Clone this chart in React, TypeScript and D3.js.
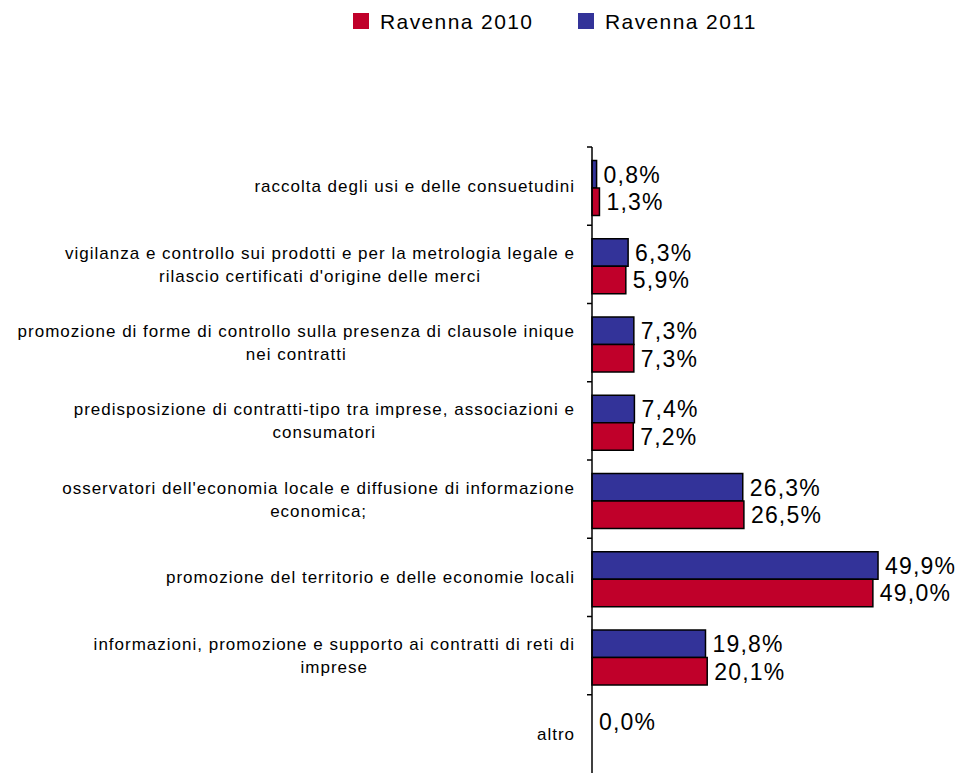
import { useEffect, useRef } from "react"
import * as d3 from "d3"

// categories, top to bottom; each entry is the wrapped lines of the label
const categories = [
  ["raccolta degli usi e delle consuetudini"],
  ["vigilanza e controllo sui prodotti e per la metrologia legale e", "rilascio certificati d'origine delle merci"],
  ["promozione di forme di controllo sulla presenza di clausole inique", "nei contratti"],
  ["predisposizione di contratti-tipo tra imprese, associazioni e", "consumatori"],
  ["osservatori dell'economia locale e diffusione di informazione", "economica;"],
  ["promozione del territorio e delle economie locali"],
  ["informazioni, promozione e supporto ai contratti di reti di", "imprese"],
  ["altro"],
]

const series = ["Ravenna 2011", "Ravenna 2010"]
const legendOrder = ["Ravenna 2010", "Ravenna 2011"]
const values2011 = [0.8, 6.3, 7.3, 7.4, 26.3, 49.9, 19.8, 0.0]
const values2010: (number | null)[] = [1.3, 5.9, 7.3, 7.2, 26.5, 49.0, 20.1, null]

const colors: Record<string, string> = {
  "Ravenna 2010": "#C0002A",
  "Ravenna 2011": "#333399",
}

const fmt = (v: number) => v.toFixed(1).replace(".", ",") + "%"

export default function App() {
  const svgRef = useRef<SVGSVGElement>(null)

  useEffect(() => {
    if (!svgRef.current) return
    const svg = d3.select(svgRef.current)
    svg.selectAll("*").remove()

    const axisX = 592
    const top = 147
    const bottom = 773
    const font = "'Liberation Sans', Arial, sans-serif"

    const keys = categories.map((_, i) => String(i))
    const y = d3.scaleBand().domain(keys).range([top, bottom])
    const yInner = d3.scaleBand().domain(series).range([13.5, 68.5])
    const x = d3.scaleLinear().domain([0, 50]).range([axisX, axisX + 286.6])

    const rows = categories.map((lines, i) => ({
      key: String(i),
      lines,
      vals: [
        { s: "Ravenna 2011", v: values2011[i] },
        { s: "Ravenna 2010", v: values2010[i] },
      ],
    }))

    // bars + value labels
    const g = svg.append("g")
    rows.forEach((r) => {
      const y0 = y(r.key) || 0
      r.vals.forEach((d) => {
        if (d.v === null) return
        const by = y0 + (yInner(d.s) || 0)
        if (d.v > 0) {
          g.append("rect")
            .attr("x", x(0))
            .attr("y", by)
            .attr("width", x(d.v) - x(0))
            .attr("height", yInner.bandwidth())
            .attr("fill", colors[d.s])
            .attr("stroke", "#000")
            .attr("stroke-width", 1.5)
        }
        g.append("text")
          .attr("x", x(d.v) + 7)
          .attr("y", by + yInner.bandwidth() / 2)
          .attr("dy", "0.36em")
          .attr("font-family", font)
          .attr("font-size", 23)
          .attr("letter-spacing", 1.2)
          .attr("fill", "#000")
          .text(fmt(d.v))
      })
    })

    // axis line + ticks
    svg.append("line")
      .attr("x1", axisX).attr("x2", axisX)
      .attr("y1", top).attr("y2", bottom)
      .attr("stroke", "#000").attr("stroke-width", 1.5)
    keys.forEach((k) => {
      svg.append("line")
        .attr("x1", axisX - 5).attr("x2", axisX)
        .attr("y1", y(k) || 0).attr("y2", y(k) || 0)
        .attr("stroke", "#000").attr("stroke-width", 1.5)
    })

    // category labels: block right-aligned near axis, lines centred in block
    const labelRight = 575
    const lineH = 23
    rows.forEach((r) => {
      const cy = (y(r.key) || 0) + y.bandwidth() / 2
      const t = svg.append("g")
      const texts = r.lines.map((ln, j) =>
        t.append("text")
          .attr("y", cy + (j - (r.lines.length - 1) / 2) * lineH)
          .attr("dy", "0.36em")
          .attr("text-anchor", "middle")
          .attr("font-family", font)
          .attr("font-size", 17)
          .attr("letter-spacing", 1.0)
          .attr("fill", "#000")
          .text(ln)
      )
      const widths = texts.map((tx) => (tx.node() as SVGTextElement).getComputedTextLength())
      const blockW = d3.max(widths) || 0
      texts.forEach((tx) => tx.attr("x", labelRight - blockW / 2))
    })

    // legend
    const lx = [353, 578]
    legendOrder.forEach((s, i) => {
      svg.append("rect")
        .attr("x", lx[i]).attr("y", 13)
        .attr("width", 16).attr("height", 16)
        .attr("fill", colors[s])
      svg.append("text")
        .attr("x", lx[i] + 27)
        .attr("y", 21)
        .attr("dy", "0.36em")
        .attr("font-family", font)
        .attr("font-size", 21)
        .attr("letter-spacing", 1.4)
        .attr("fill", "#000")
        .text(s)
    })
  }, [])

  return (
    <svg
      ref={svgRef}
      width={961}
      height={773}
      style={{ position: "absolute", left: 0, top: 0, background: "#fff" }}
    />
  )
}
